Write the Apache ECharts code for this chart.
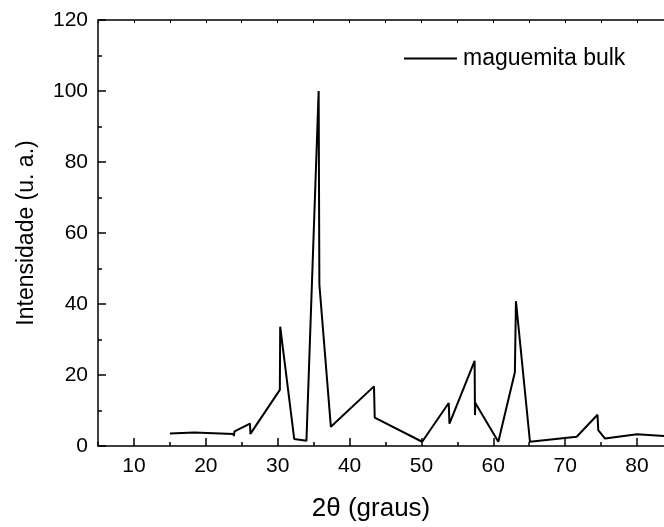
<!DOCTYPE html>
<html>
<head>
<meta charset="utf-8">
<script src="https://cdn.jsdelivr.net/npm/echarts@6/dist/echarts.min.js"></script>
<style>
html,body{margin:0;padding:0;background:#fff;}
#chart{width:664px;height:527px;}
</style>
</head>
<body>
<div id="chart"></div>
<script>
// Data
var twoTheta = [15.0, 18.4, 23.85, 23.9, 24.0, 26.15, 26.2, 30.3, 30.35, 32.3, 34.0, 35.7, 35.8, 37.4, 43.4, 43.5, 50.1, 53.8, 53.9, 57.4, 57.45, 57.5, 60.7, 63.0, 63.15, 65.1, 71.6, 71.75, 74.5, 74.6, 75.55, 80.0, 84.0];
var intensity = [3.5, 3.8, 3.4, 2.8, 4.1, 6.3, 3.4, 15.8, 33.6, 2.0, 1.5, 100, 45.5, 5.4, 16.8, 8.0, 1.2, 12.1, 6.3, 24.0, 8.7, 12.1, 1.2, 20.8, 40.8, 1.2, 2.6, 2.1, 8.8, 4.5, 2.1, 3.3, 2.8];
var xMajorTicks = [10, 20, 30, 40, 50, 60, 70, 80];
var xMinorTicks = [5, 15, 25, 35, 45, 55, 65, 75];
var xAllTicks = [5, 10, 15, 20, 25, 30, 35, 40, 45, 50, 55, 60, 65, 70, 75, 80];
var seriesName = 'maguemita bulk';
var xTitle = '2\u03b8 (graus)';
var yTitle = 'Intensidade (u. a.)';

var points = twoTheta.map(function (x, i) { return [x, intensity[i]]; });

var FONT = 'Liberation Sans, Arial, sans-serif';
var X_MIN = 5, X_MAX = 83.75;
var chart = echarts.init(document.getElementById('chart'), null, {renderer: 'canvas'});
chart.setOption({
  backgroundColor: '#fff',
  animation: false,
  grid: {left: 98, top: 20, right: 0, bottom: 78},
  legend: {
    left: 399, top: 42,
    icon: 'rect',
    itemWidth: 53, itemHeight: 2,
    itemGap: 10,
    textStyle: {fontFamily: FONT, fontSize: 23, color: '#000', padding: [0, 0, 0, 1]},
    data: [seriesName]
  },
  xAxis: [
    {
      type: 'value', position: 'bottom', min: X_MIN, max: X_MAX,
      axisLine: {show: true, onZero: false, lineStyle: {color: '#000', width: 1.5}},
      axisTick: {show: true, inside: true, length: 8, customValues: xMajorTicks, lineStyle: {color: '#000', width: 1.5}},
      axisLabel: {customValues: xMajorTicks, fontFamily: FONT, fontSize: 21, color: '#000', margin: 10},
      splitLine: {show: false},
      name: xTitle, nameLocation: 'middle', nameGap: 50,
      nameTextStyle: {fontFamily: FONT, fontSize: 26, color: '#000', padding: [0, 20, 0, 0]}
    },
    {
      type: 'value', position: 'bottom', min: X_MIN, max: X_MAX,
      axisLine: {show: false},
      axisTick: {show: true, inside: true, length: 4, customValues: xMinorTicks, lineStyle: {color: '#000', width: 1.5}},
      axisLabel: {show: false},
      splitLine: {show: false}
    },
    {
      type: 'value', position: 'top', min: X_MIN, max: X_MAX,
      axisLine: {show: true, onZero: false, lineStyle: {color: '#000', width: 1.5}},
      axisTick: {show: true, inside: true, length: 3, customValues: xAllTicks, lineStyle: {color: '#000', width: 1}},
      axisLabel: {show: false},
      splitLine: {show: false}
    }
  ],
  yAxis: {
    type: 'value', min: 0, max: 120, interval: 20,
    axisLine: {show: true, onZero: false, lineStyle: {color: '#000', width: 1.5}},
    axisTick: {show: true, inside: true, length: 8, lineStyle: {color: '#000', width: 1.5}},
    minorTick: {show: true, splitNumber: 2, length: 4, lineStyle: {color: '#000', width: 1.5}},
    axisLabel: {fontFamily: FONT, fontSize: 21, color: '#000', margin: 10},
    splitLine: {show: false},
    name: yTitle, nameLocation: 'middle', nameGap: 60,
    nameTextStyle: {fontFamily: FONT, fontSize: 23, color: '#000'}
  },
  series: [{
    name: seriesName, type: 'line', xAxisIndex: 0,
    data: points, symbol: 'none', showSymbol: false,
    lineStyle: {color: '#000', width: 2}, itemStyle: {color: '#000'},
    clip: true
  }]
});
</script>
</body>
</html>
